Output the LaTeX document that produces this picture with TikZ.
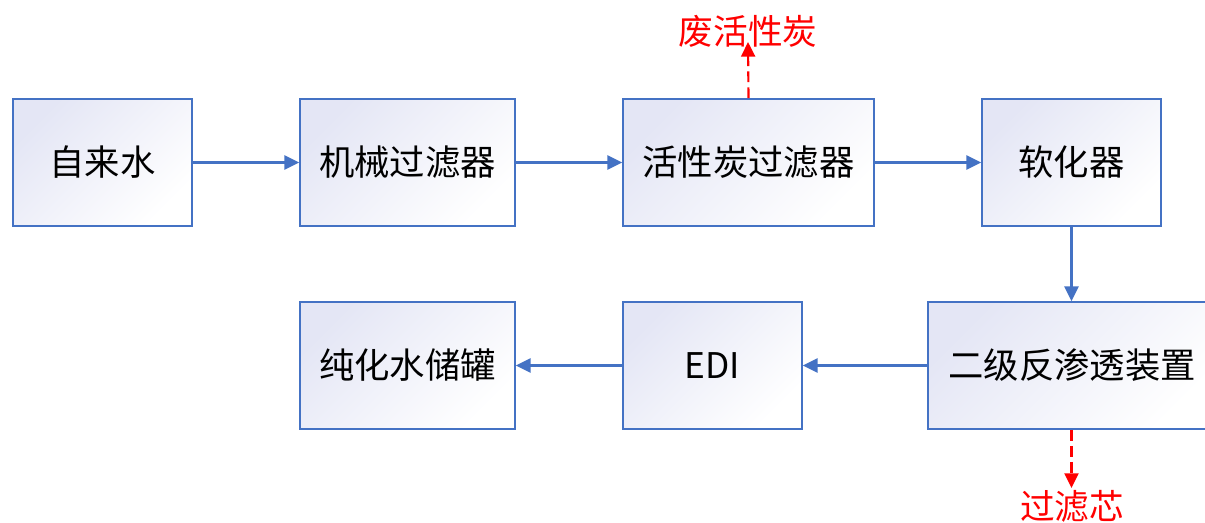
\documentclass[tikz,border=0pt]{standalone}
\usepackage{fontspec}
\setmainfont{Noto Sans CJK SC}
\usetikzlibrary{arrows.meta}
\definecolor{bblue}{HTML}{4472C4}
\definecolor{lav}{HTML}{E4E6F5}
\begin{document}
\begin{tikzpicture}[x=0.75pt,y=-0.75pt,
  box/.style={draw=bblue,line width=1.3pt,top color=lav,bottom color=white,shading angle=45,
    inner sep=0pt,font=\fontsize{26.5}{30}\selectfont},
  flow/.style={draw=bblue,line width=1.6pt,-{Triangle[length=11pt,width=10.5pt]}},
  waste/.style={draw=red,line width=1.6pt,dash pattern=on 8pt off 4pt,-{Triangle[length=11pt,width=10.5pt]}},
  lbl/.style={text=red,inner sep=0pt,font=\fontsize{26}{30}\selectfont}]
\useasboundingbox (0,0) rectangle (1205,523);
\begin{scope}
\clip (0,0) rectangle (1205,523);
\node[box,minimum width=179*0.75pt,minimum height=127*0.75pt] (a) at (102.5,162.5) {自来水};
\node[box,minimum width=215*0.75pt,minimum height=127*0.75pt] (b) at (407.5,162.5) {机械过滤器};
\node[box,minimum width=251*0.75pt,minimum height=127*0.75pt] (c) at (748.5,162.5) {活性炭过滤器};
\node[box,minimum width=179*0.75pt,minimum height=127*0.75pt] (d) at (1071.5,162.5) {软化器};
\node[box,minimum width=288*0.75pt,minimum height=127*0.75pt] (e) at (1072,365.5) {二级反渗透装置};
\node[box,minimum width=179*0.75pt,minimum height=127*0.75pt] (f) at (712.5,365.5) {EDI};
\node[box,minimum width=215*0.75pt,minimum height=127*0.75pt] (g) at (407.5,365.5) {纯化水储罐};
\end{scope}
\node[lbl] (w1) at (748,31) {废活性炭};
\node[lbl] (w2) at (1072,506) {过滤芯};
\coordinate (w1t) at (748,42);
\coordinate (w2t) at (1071.5,488);
\draw[flow] (a) -- (b);
\draw[flow] (b) -- (c);
\draw[flow] (c) -- (d);
\draw[flow] (d.south) -- (d.south |- e.north);
\draw[flow] (e.west) -- (f.east);
\draw[flow] (f) -- (g);
\draw[waste] (c.north) -- (w1t);
\draw[waste] (e.south -| d.south) -- (w2t);
\end{tikzpicture}
\end{document}
